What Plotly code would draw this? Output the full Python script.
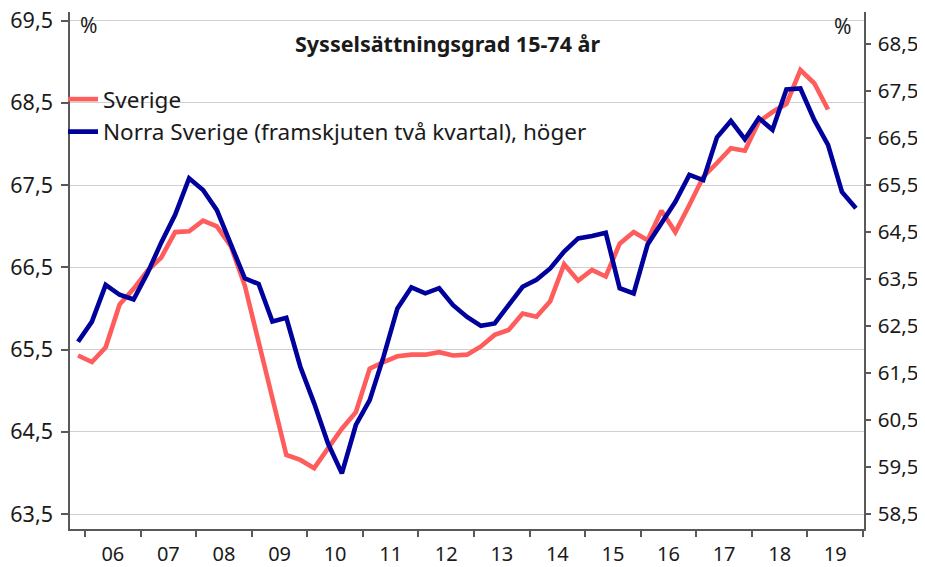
import pandas as pd
import plotly.graph_objects as go

# Sysselsättningsgrad 15-74 år, kvartal (första kvartal: 2005K4)
start_quarter = "2005Q4"
sverige = [65.43, 65.35, 65.53, 66.05, 66.24, 66.46, 66.62, 66.93, 66.94, 67.07,
           67.00, 66.76, 66.28, 65.61, 64.92, 64.22, 64.16, 64.06, 64.30, 64.54,
           64.74, 65.27, 65.35, 65.42, 65.44, 65.44, 65.47, 65.43, 65.44, 65.54,
           65.68, 65.74, 65.94, 65.90, 66.09, 66.54, 66.34, 66.47, 66.39, 66.79,
           66.93, 66.83, 67.19, 66.93, 67.26, 67.60, 67.77, 67.95, 67.92, 68.27,
           68.39, 68.49, 68.90, 68.74, 68.42]
norra = [62.17, 62.60, 63.38, 63.17, 63.07, 63.63, 64.28, 64.87, 65.65, 65.40,
         64.97, 64.23, 63.52, 63.40, 62.60, 62.68, 61.64, 60.86, 60.01, 59.37,
         60.40, 60.93, 61.85, 62.88, 63.33, 63.20, 63.31, 62.95, 62.70, 62.51,
         62.56, 62.95, 63.34, 63.49, 63.73, 64.09, 64.37, 64.42, 64.49, 63.31,
         63.20, 64.24, 64.69, 65.15, 65.72, 65.61, 66.52, 66.87, 66.48, 66.93,
         66.68, 67.54, 67.56, 66.89, 66.36, 65.36, 65.01]

left_ticks = [63.5, 64.5, 65.5, 66.5, 67.5, 68.5, 69.5]
right_ticks = [58.5, 59.5, 60.5, 61.5, 62.5, 63.5, 64.5, 65.5, 66.5, 67.5, 68.5]

title = "Sysselsättningsgrad 15-74 år"
name_sve = "Sverige"
name_norra = "Norra Sverige (framskjuten två kvartal), höger"


def quarter_mids(n):
    periods = pd.period_range(start_quarter, periods=n, freq="Q")
    return [p.start_time + (p.end_time - p.start_time) / 2 for p in periods]


RED = "#FF5C5C"
BLUE = "#00009C"
AXIS = "#595959"
FONT = "Noto Sans"

# page body has an 8px margin: figure is laid out in its own pixel frame
W, H = 917, 559
L, R, T, B = 62, 61, 4, 38
PW, PH = W - L - R, H - T - B


def px(sx):  # screen x -> paper x
    return (sx - 8 - L) / PW


def py(sy):  # screen y -> paper y
    return (H - B - (sy - 8)) / PH


fig = go.Figure()
fig.add_trace(go.Scatter(x=quarter_mids(len(sverige)), y=sverige, mode="lines",
                         name=name_sve, line=dict(color=RED, width=4.6),
                         yaxis="y", legend="legend"))
fig.add_trace(go.Scatter(x=quarter_mids(len(norra)), y=norra, mode="lines",
                         name=name_norra, line=dict(color=BLUE, width=4.6),
                         yaxis="y2", legend="legend2"))

fig.update_layout(
    width=W, height=H,
    margin=dict(l=L, r=R, t=T, b=B, pad=0, autoexpand=False),
    plot_bgcolor="white", paper_bgcolor="white",
    separators=", ",
    font=dict(family=FONT, color="#1a1a1a", size=20),
    xaxis=dict(
        type="date", range=["2005-09-24", "2020-01-08"],
        tick0="2006-01-01", dtick="M12", tickformat="%y",
        ticklabelmode="period", ticks="outside", ticklen=6, tickwidth=1.5,
        tickcolor=AXIS, showline=True, linecolor=AXIS, linewidth=1.5,
        showgrid=False, tickfont=dict(size=20), zeroline=False,
        ticklabeloverflow="allow", automargin=False,
    ),
    yaxis=dict(
        range=[63.32, 69.606], tickvals=left_ticks, tickformat=".1f",
        ticks="outside", ticklen=7, tickwidth=1.5, tickcolor=AXIS,
        showline=True, linecolor=AXIS, linewidth=1.5,
        showgrid=True, gridcolor="#d0d0d0", gridwidth=1.3,
        tickfont=dict(size=21.5), zeroline=False, ticklabelstandoff=4,
        ticklabeloverflow="allow", automargin=False,
    ),
    yaxis2=dict(
        range=[58.187, 69.187], tickvals=right_ticks, tickformat=".1f",
        overlaying="y", side="right", anchor="x",
        ticks="outside", ticklen=5, tickwidth=1.5, tickcolor=AXIS,
        showline=True, linecolor=AXIS, linewidth=1.5,
        showgrid=False, tickfont=dict(size=20.5), zeroline=False,
        ticklabelstandoff=3, ticklabeloverflow="allow", automargin=False,
    ),
    legend=dict(x=px(63), xanchor="left", y=py(99.5), yanchor="middle",
                bgcolor="rgba(0,0,0,0)", font=dict(size=22.5), itemwidth=30),
    legend2=dict(x=px(63), xanchor="left", y=py(132), yanchor="middle",
                 bgcolor="rgba(0,0,0,0)", font=dict(size=22.5), itemwidth=30),
    showlegend=True,
)

fig.add_annotation(text="<b>" + title + "</b>", xref="paper", yref="paper",
                   x=px(447), y=py(43), xanchor="center",
                   yanchor="middle", showarrow=False, font=dict(size=21.5))
fig.add_annotation(text="%", xref="paper", yref="paper",
                   x=px(88), y=py(25), xanchor="center",
                   yanchor="middle", showarrow=False, font=dict(size=21))
fig.add_annotation(text="%", xref="paper", yref="paper",
                   x=px(842), y=py(26), xanchor="center",
                   yanchor="middle", showarrow=False, font=dict(size=21))

fig.write_html("out.html")
